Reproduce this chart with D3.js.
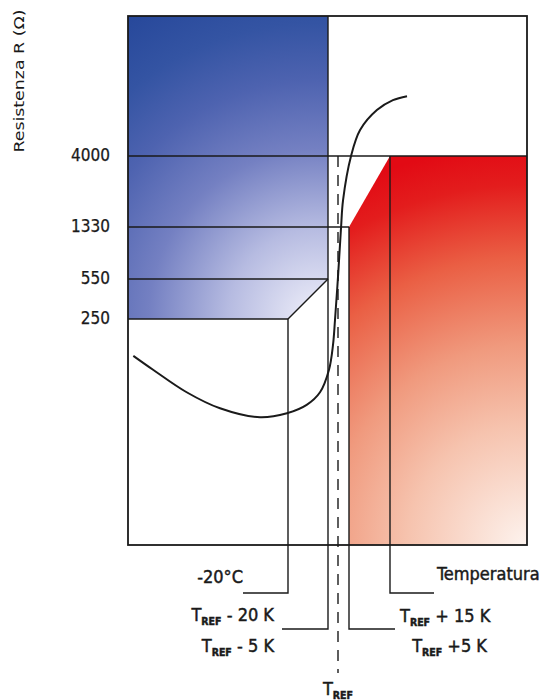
<!DOCTYPE html>
<html>
<head>
<meta charset="utf-8">
<script src="https://cdn.jsdelivr.net/npm/d3@7"></script>
<style>
  body { margin: 0; background: #fff; }
  svg text { font-family: "DejaVu Sans Condensed", "DejaVu Sans", sans-serif; font-stretch: condensed; fill: #1a1a1a; }
</style>
</head>
<body>
<svg id="chart" width="545" height="700"></svg>
<script>
// resistance thresholds shown on the y axis (ohm)
const rTicks = [250, 550, 1330, 4000];

// temperature breakpoints, K relative to T_REF (frame edges at both ends)
const tempStops = [-80, -20, -5, 0, 5, 15, 48];

// characteristic curve: T - T_REF (K) and R (ohm)
const curveT = [-78, -70.6, -58, -45.5, -30.5, -20.4, -13, -8, -4.5, -2.5, -1.5, 0, 1.4, 2.3, 5.5, 7.7, 11.8, 15.7, 19.1];
const curveR = [121, 92, 59, 43, 36, 39, 46, 59, 92, 150, 245, 570, 1330, 2020, 4000, 5980, 8150, 9510, 10120];

// bottom labels: main text, subscript, rest
const leftLabels = [['-20°C', '', ''], ['T', 'REF', ' - 20 K'], ['T', 'REF', ' - 5 K']];
const rightLabels = [['Temperatura', '', ''], ['T', 'REF', ' + 15 K'], ['T', 'REF', ' +5 K']];

const frame = { left: 128, right: 527, top: 16, bottom: 545 };
const ink = '#1a1a1a';

const svg = d3.select('#chart');

const x = d3.scaleLinear()
  .domain(tempStops)
  .range([frame.left, 288, 328, 338, 349, 390, frame.right]);

const y = d3.scaleLog()
  .domain(rTicks)
  .range([319, 279, 227, 156]);

// gradients
const defs = svg.append('defs');
const blue = defs.append('radialGradient')
  .attr('id', 'blueGrad')
  .attr('gradientUnits', 'userSpaceOnUse')
  .attr('cx', 318).attr('cy', 318).attr('r', 360);
[[0, '#f0f0fa'], [0.25, '#b6bbe1'], [0.47, '#7480c2'], [0.66, '#4e63b0'], [0.82, '#3454a3'], [1, '#26479a']]
  .forEach(([o, c]) => blue.append('stop').attr('offset', o).attr('stop-color', c));

const red = defs.append('radialGradient')
  .attr('id', 'redGrad')
  .attr('gradientUnits', 'userSpaceOnUse')
  .attr('cx', frame.right).attr('cy', frame.bottom).attr('r', 400);
[[0, '#fdf3ee'], [0.3, '#f6c3ae'], [0.5, '#f09a7e'], [0.72, '#ea5f44'], [0.9, '#e31d1d'], [1, '#e20a14']]
  .forEach(([o, c]) => red.append('stop').attr('offset', o).attr('stop-color', c));

// blue zone: R must stay below the thresholds
svg.append('path')
  .attr('d', d3.line()([
    [frame.left, frame.top], [x(-5), frame.top], [x(-5), y(550)],
    [x(-20), y(250)], [frame.left, y(250)]
  ]) + 'Z')
  .attr('fill', 'url(#blueGrad)');

// red zone: R must stay above the thresholds
svg.append('path')
  .attr('d', d3.line()([
    [x(5), y(1330)], [x(15), y(4000)], [frame.right, y(4000)],
    [frame.right, frame.bottom], [x(5), frame.bottom]
  ]) + 'Z')
  .attr('fill', 'url(#redGrad)');

const lines = svg.append('g')
  .attr('stroke', ink)
  .attr('stroke-width', 1.4)
  .attr('fill', 'none');

// threshold lines
const tickEnd = { 250: x(-20), 550: x(-5), 1330: x(5), 4000: frame.right };
rTicks.forEach(r => {
  lines.append('line')
    .attr('x1', frame.left).attr('x2', tickEnd[r])
    .attr('y1', y(r)).attr('y2', y(r));
});

// blue chamfer
lines.append('line')
  .attr('x1', x(-20)).attr('y1', y(250))
  .attr('x2', x(-5)).attr('y2', y(550));

// leaders from the zone edges down to the labels
const leaderTop = [y(250), frame.top, y(1330), y(4000)];
const leaderT = [-20, -5, 5, 15];
const leaderY = [593, 629, 629, 593];
const leaderLen = [-45, -46, 46, 44];
leaderT.forEach((t, i) => {
  lines.append('path')
    .attr('d', d3.line()([
      [x(t), leaderTop[i]], [x(t), leaderY[i]], [x(t) + leaderLen[i], leaderY[i]]
    ]));
});

// T_REF dashed line
lines.append('line')
  .attr('x1', x(0)).attr('x2', x(0))
  .attr('y1', y(4000)).attr('y2', 673)
  .attr('stroke-dasharray', '11 8');

// frame
svg.append('rect')
  .attr('x', frame.left).attr('y', frame.top)
  .attr('width', frame.right - frame.left)
  .attr('height', frame.bottom - frame.top)
  .attr('fill', 'none')
  .attr('stroke', ink)
  .attr('stroke-width', 1.8);

// characteristic curve
svg.append('path')
  .datum(curveT.map((t, i) => [t, curveR[i]]))
  .attr('d', d3.line()
    .x(d => x(d[0]))
    .y(d => y(d[1]))
    .curve(d3.curveCatmullRom.alpha(0.5)))
  .attr('fill', 'none')
  .attr('stroke', ink)
  .attr('stroke-width', 2);

// y tick labels
svg.append('g')
  .selectAll('text')
  .data(rTicks)
  .join('text')
  .attr('x', 110)
  .attr('y', d => y(d) + 5)
  .attr('text-anchor', 'end')
  .attr('font-size', 17)
  .attr('stroke', ink)
  .attr('stroke-width', 0.25)
  .text(d => d);

// y axis title
svg.append('text')
  .attr('transform', 'translate(24, 81) rotate(-90)')
  .attr('text-anchor', 'middle')
  .attr('font-size', 14.5)
  .attr('textLength', 143)
  .attr('lengthAdjust', 'spacingAndGlyphs')
  .text('Resistenza R (Ω)');

function label(parts, px, py, anchor) {
  const t = svg.append('text')
    .attr('x', px).attr('y', py)
    .attr('text-anchor', anchor)
    .attr('font-size', 18)
    .attr('stroke', ink)
    .attr('stroke-width', 0.45);
  t.append('tspan').text(parts[0]);
  if (parts[1]) {
    t.append('tspan').attr('dy', 4).attr('font-size', 10.5).attr('font-weight', 'bold').text(parts[1]);
    t.append('tspan').attr('dy', -4).text(parts[2]);
  }
  return t;
}

const leftY = [583, 621, 652];
const leftX = [243, 274, 274];
leftLabels.forEach((p, i) => label(p, leftX[i], leftY[i], 'end'));

const rightY = [580, 622, 652];
const rightX = [437, 400, 487];
const rightAnchor = ['start', 'start', 'end'];
rightLabels.forEach((p, i) => label(p, rightX[i], rightY[i], rightAnchor[i]));

label(['T', 'REF', ''], x(0), 695, 'middle');
</script>
</body>
</html>
